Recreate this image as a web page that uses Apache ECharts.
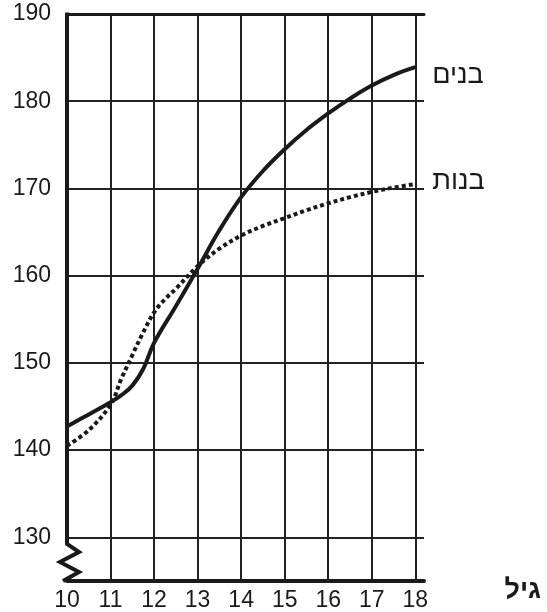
<!DOCTYPE html>
<html dir="ltr">
<head>
<meta charset="utf-8">
<script src="https://cdn.jsdelivr.net/npm/echarts@6/dist/echarts.min.js"></script>
<style>html,body{margin:0;padding:0;background:#fff}#c{width:547px;height:612px}</style>
</head>
<body>
<div id="c"></div>
<script>
// Data
const xTicks = [10, 11, 12, 13, 14, 15, 16, 17, 18];
const yTicks = [130, 140, 150, 160, 170, 180, 190];
const boysName = 'בנים';
const girlsName = 'בנות';
const xAxisName = 'גיל';
const boysAges = [10, 10.5, 11, 11.25, 11.5, 11.75, 12, 12.5, 13, 13.5, 14, 14.5, 15, 15.5, 16, 16.5, 17, 17.5, 18];
const boysHeights = [142.7, 144.1, 145.5, 146.3, 147.4, 149.3, 152.3, 156.5, 160.8, 165.2, 169.0, 172.0, 174.5, 176.7, 178.6, 180.3, 181.8, 183.0, 183.9];
const girlsAges = [10, 10.5, 11, 11.25, 11.5, 11.75, 12, 12.25, 12.5, 13, 13.5, 14, 14.5, 15, 15.5, 16, 16.5, 17, 17.5, 18];
const girlsHeights = [140.5, 142.3, 145.2, 148.2, 150.9, 153.5, 155.8, 157.3, 158.5, 161.1, 163.1, 164.6, 165.7, 166.6, 167.5, 168.3, 169.0, 169.6, 170.1, 170.5];

const FONT = '"Liberation Sans", Arial, sans-serif';
const INK = '#1a1a1a';
const chart = echarts.init(document.getElementById('c'), null, {renderer: 'canvas'});

const vColors = xTicks.map((t, i) => i === 0 ? 'rgba(0,0,0,0)' : '#222');
vColors.push('rgba(0,0,0,0)');

const option = {
  animation: false,
  backgroundColor: '#fff',
  grid: {left: 67, right: 123, top: 14, bottom: 30},
  xAxis: [{
    type: 'value', min: 10, max: 18.2, interval: 1,
    axisLine: {onZero: false, lineStyle: {color: INK, width: 4}},
    axisTick: {show: false},
    axisLabel: {
      fontFamily: FONT, fontSize: 23, color: INK, margin: 8,
      formatter: v => xTicks.indexOf(v) >= 0 ? String(v) : ''
    },
    splitLine: {show: true, lineStyle: {width: 2, color: vColors}}
  }, {
    type: 'value', min: 10, max: 18.2, position: 'top',
    axisLine: {show: true, onZero: false, lineStyle: {color: INK, width: 3}},
    axisTick: {show: false}, axisLabel: {show: false}, splitLine: {show: false}
  }],
  yAxis: {
    type: 'value', min: 125, max: 190, interval: 5,
    axisLine: {show: false}, axisTick: {show: false},
    axisLabel: {
      fontFamily: FONT, fontSize: 23, color: INK, margin: 16,
      formatter: v => yTicks.indexOf(v) >= 0 ? String(v) : ''
    },
    splitLine: {show: true, lineStyle: {width: 2, color: ['rgba(0,0,0,0)', '#222']}}
  },
  series: [{
    name: boysName, type: 'line', smooth: 0.4, symbol: 'none',
    data: boysAges.map((a, i) => [a, boysHeights[i]]),
    lineStyle: {color: INK, width: 4},
    endLabel: {show: true, formatter: '{a}', fontFamily: FONT, fontSize: 27, color: INK, distance: 0, offset: [17, 8]}
  }, {
    name: girlsName, type: 'line', smooth: 0.35, symbol: 'none',
    data: girlsAges.map((a, i) => [a, girlsHeights[i]]),
    lineStyle: {color: INK, width: 4, type: [4, 3], cap: 'butt'},
    endLabel: {show: true, formatter: '{a}', fontFamily: FONT, fontSize: 27, color: INK, distance: 0, offset: [17, -3]}
  }]
};
chart.setOption(option);

// left axis with axis-break zigzag
const pTop = chart.convertToPixel({xAxisIndex: 0, yAxisIndex: 0}, [10, 190]);
const pBot = chart.convertToPixel({xAxisIndex: 0, yAxisIndex: 0}, [10, 125]);
const x0 = pTop[0], yT = pTop[1] - 1.5, yB = pBot[1];
chart.setOption({
  graphic: [{
    type: 'polyline', z: 100,
    shape: {points: [[x0, yT], [x0, yB - 37], [x0 + 12, yB - 29], [x0 - 7, yB - 19], [x0 + 12, yB - 9], [x0 - 4, yB]]},
    style: {stroke: INK, lineWidth: 4, fill: null, lineJoin: 'miter'}
  }, {
    type: 'text', right: 6, top: 577, z: 100,
    style: {text: xAxisName, font: 'bold 27px ' + FONT, fill: INK}
  }]
});
</script>
</body>
</html>
